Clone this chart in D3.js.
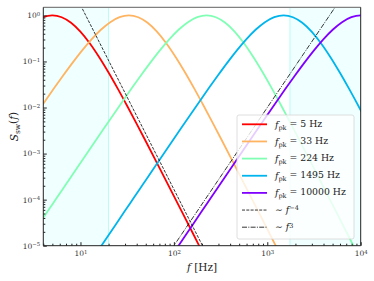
<!DOCTYPE html>
<html>
<head>
<meta charset="UTF-8">
<script src="https://d3js.org/d3.v7.min.js"></script>
<style>
  body { margin: 0; background: #fff; }
  svg { display: block; font-family: "DejaVu Serif", "Liberation Serif", serif; }
  .axis path, .axis line { stroke: #222; }
</style>
</head>
<body>
<svg id="chart" width="374" height="281"></svg>
<script>
// peak frequencies of the five spectra (Hz)
const peaks = [5, 33, 224, 1495, 10000];
const peakLabels = ["5", "33", "224", "1495", "10000"];
const colors = ["#ff0000", "#ffb462", "#80ffb4", "#00b4ec", "#8000ff"];

// spectral shape: f/f_pk (as power of ten) and S_sw
const ratioExp = [-2.2, -2.1, -2.0, -1.9, -1.8, -1.7, -1.6, -1.5, -1.4, -1.3,
  -1.2, -1.1, -1.0, -0.9, -0.8, -0.7, -0.6, -0.5, -0.4, -0.3, -0.2, -0.1, 0,
  0.1, 0.2, 0.3, 0.4, 0.5, 0.6, 0.7, 0.8, 0.9, 1.0, 1.1, 1.2, 1.3, 1.4, 1.5, 1.6, 1.7];
const shape = [1.782e-6, 3.556e-6, 7.096e-6, 1.416e-5, 2.825e-5, 5.636e-5, 1.122e-4,
  2.236e-4, 4.455e-4, 8.867e-4, 1.762e-3, 3.495e-3, 6.908e-3, 1.357e-2, 2.644e-2,
  5.079e-2, 9.557e-2, 0.1741, 0.3019, 0.4879, 0.7137, 0.9155, 1.0,
  0.9120, 0.6929, 0.4455, 0.2492, 0.1252, 5.823e-2, 2.567e-2, 1.091e-2, 4.530e-3,
  1.853e-3, 7.500e-4, 3.018e-4, 1.210e-4, 4.838e-5, 1.932e-5, 7.701e-6, 3.069e-6];

// power-law guide lines (end points)
const slopeMinus4 = [{ f: 10, s: 1.68 }, { f: 210, s: 8.63e-6 }];
const slopePlus3 = [{ f: 95, s: 8.57e-6 }, { f: 5500, s: 1.664 }];

// shaded bands (Hz)
const bands = [[4, 20], [1750, 10000]];

const xMajor = [10, 100, 1000, 10000];
const xExp = ["1", "2", "3", "4"];
const yMajor = [1, 1e-1, 1e-2, 1e-3, 1e-4, 1e-5];
const yExp = ["0", "\u22121", "\u22122", "\u22123", "\u22124", "\u22125"];

const svg = d3.select("#chart");
const margin = { top: 7.3, right: 13.3, bottom: 35.3, left: 43.3 };
const W = 374, H = 281;

const x = d3.scaleLog().domain([4, 10000]).range([margin.left, W - margin.right]);
const y = d3.scaleLog().domain([1e-5, 1.5]).range([H - margin.bottom, margin.top]);

svg.append("defs").append("clipPath").attr("id", "clip")
  .append("rect")
  .attr("x", margin.left).attr("y", margin.top)
  .attr("width", x.range()[1] - margin.left)
  .attr("height", y.range()[0] - margin.top);

const plot = svg.append("g").attr("clip-path", "url(#clip)");

// bands
plot.selectAll(".band").data(bands).join("rect")
  .attr("x", d => x(d[0])).attr("y", margin.top)
  .attr("width", d => x(d[1]) - x(d[0]))
  .attr("height", y.range()[0] - margin.top)
  .attr("fill", "#f0ffff");
plot.selectAll(".bandEdge").data(bands).join("line")
  .attr("x1", d => x(d[0] === 4 ? d[1] : d[0])).attr("x2", d => x(d[0] === 4 ? d[1] : d[0]))
  .attr("y1", margin.top).attr("y2", y.range()[0])
  .attr("stroke", "#b8fbf6").attr("stroke-width", 1);

const line = d3.line()
  .x(d => x(d.f)).y(d => y(d.s))
  .curve(d3.curveMonotoneX);

peaks.forEach((fp, i) => {
  const pts = ratioExp.map((e, j) => ({ f: fp * Math.pow(10, e), s: shape[j] }));
  plot.append("path").datum(pts)
    .attr("d", line)
    .attr("fill", "none")
    .attr("stroke", colors[i])
    .attr("stroke-width", 1.8);
});

const straight = d3.line().x(d => x(d.f)).y(d => y(d.s));
plot.append("path").datum(slopeMinus4).attr("d", straight)
  .attr("fill", "none").attr("stroke", "#000").attr("stroke-width", 0.8)
  .attr("stroke-dasharray", "3,1.3");
plot.append("path").datum(slopePlus3).attr("d", straight)
  .attr("fill", "none").attr("stroke", "#000").attr("stroke-width", 0.8)
  .attr("stroke-dasharray", "5,1.3,1,1.3");

// axes
function xMinors() {
  const out = [];
  [1, 10, 100, 1000].forEach(b => { for (let k = 2; k <= 9; k++) if (b * k >= 4) out.push(b * k); });
  return out;
}
function yMinors() {
  const out = [];
  [1e-5, 1e-4, 1e-3, 1e-2, 1e-1, 1].forEach(b => { for (let k = 2; k <= 9; k++) if (b * k <= 1.5) out.push(b * k); });
  return out;
}

const gx = svg.append("g").attr("class", "axis")
  .attr("transform", `translate(0,${y.range()[0]})`);
gx.append("g").call(d3.axisBottom(x).tickValues(xMinors()).tickSize(-2).tickFormat(""))
  .call(g => g.select(".domain").remove());
gx.append("g").call(d3.axisBottom(x).tickValues(xMajor).tickSize(-3.5).tickPadding(5).tickFormat(""))
  .call(g => g.select(".domain").remove())
  .call(g => g.selectAll(".tick text").each(function (d, i) {
    const t = d3.select(this).attr("font-size", 7.5).attr("fill", "#333").attr("font-family", "DejaVu Serif");
    t.append("tspan").text("10");
    t.append("tspan").attr("dy", "-0.45em").attr("font-size", "0.72em").text(xExp[i]);
  }));

const gy = svg.append("g").attr("class", "axis")
  .attr("transform", `translate(${margin.left},0)`);
gy.append("g").call(d3.axisLeft(y).tickValues(yMinors()).tickSize(-2).tickFormat(""))
  .call(g => g.select(".domain").remove());
gy.append("g").call(d3.axisLeft(y).tickValues(yMajor).tickSize(-3.5).tickPadding(3).tickFormat(""))
  .call(g => g.select(".domain").remove())
  .call(g => g.selectAll(".tick text").each(function (d, i) {
    const t = d3.select(this).attr("font-size", 7.5).attr("fill", "#333").attr("font-family", "DejaVu Serif");
    t.append("tspan").text("10");
    t.append("tspan").attr("dy", "-0.45em").attr("font-size", "0.72em").text(yExp[i]);
  }));

// frame
const x0 = margin.left, x1 = x.range()[1], y0 = margin.top, y1 = y.range()[0];
svg.append("line").attr("x1", x0).attr("x2", x1).attr("y1", y0).attr("y2", y0)
  .attr("stroke", "#808080").attr("stroke-width", 1.2);
svg.append("line").attr("x1", x0).attr("x2", x1).attr("y1", y1).attr("y2", y1)
  .attr("stroke", "#222").attr("stroke-width", 1);
svg.append("line").attr("x1", x0).attr("x2", x0).attr("y1", y0).attr("y2", y1)
  .attr("stroke", "#222").attr("stroke-width", 1);
svg.append("line").attr("x1", x1).attr("x2", x1).attr("y1", y0).attr("y2", y1)
  .attr("stroke", "#222").attr("stroke-width", 1);

// axis labels
const xl = svg.append("text").attr("x", (x0 + x1) / 2).attr("y", 271)
  .attr("text-anchor", "middle").attr("font-size", 10.5).attr("fill", "#222");
xl.append("tspan").attr("font-style", "italic").text("f");
xl.append("tspan").text(" [Hz]");

const yl = svg.append("text").attr("transform", `translate(18,${(y0 + y1) / 2}) rotate(-90)`)
  .attr("text-anchor", "middle").attr("font-size", 10.5).attr("fill", "#222");
yl.append("tspan").attr("font-style", "italic").text("S");
yl.append("tspan").attr("dy", "0.3em").attr("font-size", "0.7em").text("sw");
yl.append("tspan").attr("dy", "-0.3em").text("(");
yl.append("tspan").attr("font-style", "italic").text("f");
yl.append("tspan").text(")");

// legend
const leg = svg.append("g");
leg.append("rect").attr("x", 237).attr("y", 115).attr("width", 117).attr("height", 124)
  .attr("rx", 2).attr("fill", "#fff").attr("fill-opacity", 0.8)
  .attr("stroke", "#d6d6d6").attr("stroke-width", 0.8);
const rowY = i => 124.3 + i * 17.15;
peaks.forEach((fp, i) => {
  leg.append("line").attr("x1", 242).attr("x2", 267).attr("y1", rowY(i)).attr("y2", rowY(i))
    .attr("stroke", colors[i]).attr("stroke-width", 1.8);
  const t = leg.append("text").attr("x", 275).attr("y", rowY(i)).attr("dy", "0.35em")
    .attr("font-size", 9.3).attr("fill", "#222");
  t.append("tspan").attr("font-style", "italic").text("f");
  t.append("tspan").attr("dy", "0.3em").attr("font-size", "0.7em").text("pk");
  t.append("tspan").attr("dy", "-0.3em").text(" = " + peakLabels[i] + " Hz");
});
const guides = [{ dash: "3,1.3", exp: "\u22124" }, { dash: "5,1.3,1,1.3", exp: "3" }];
guides.forEach((g, k) => {
  const i = 5 + k;
  leg.append("line").attr("x1", 242).attr("x2", 267).attr("y1", rowY(i)).attr("y2", rowY(i))
    .attr("stroke", "#000").attr("stroke-width", 0.8).attr("stroke-dasharray", g.dash);
  const t = leg.append("text").attr("x", 275).attr("y", rowY(i)).attr("dy", "0.35em")
    .attr("font-size", 9.3).attr("fill", "#222");
  t.append("tspan").text("\u223C ");
  t.append("tspan").attr("font-style", "italic").text("f");
  t.append("tspan").attr("dy", "-0.45em").attr("font-size", "0.7em").text(g.exp);
});
</script>
</body>
</html>
